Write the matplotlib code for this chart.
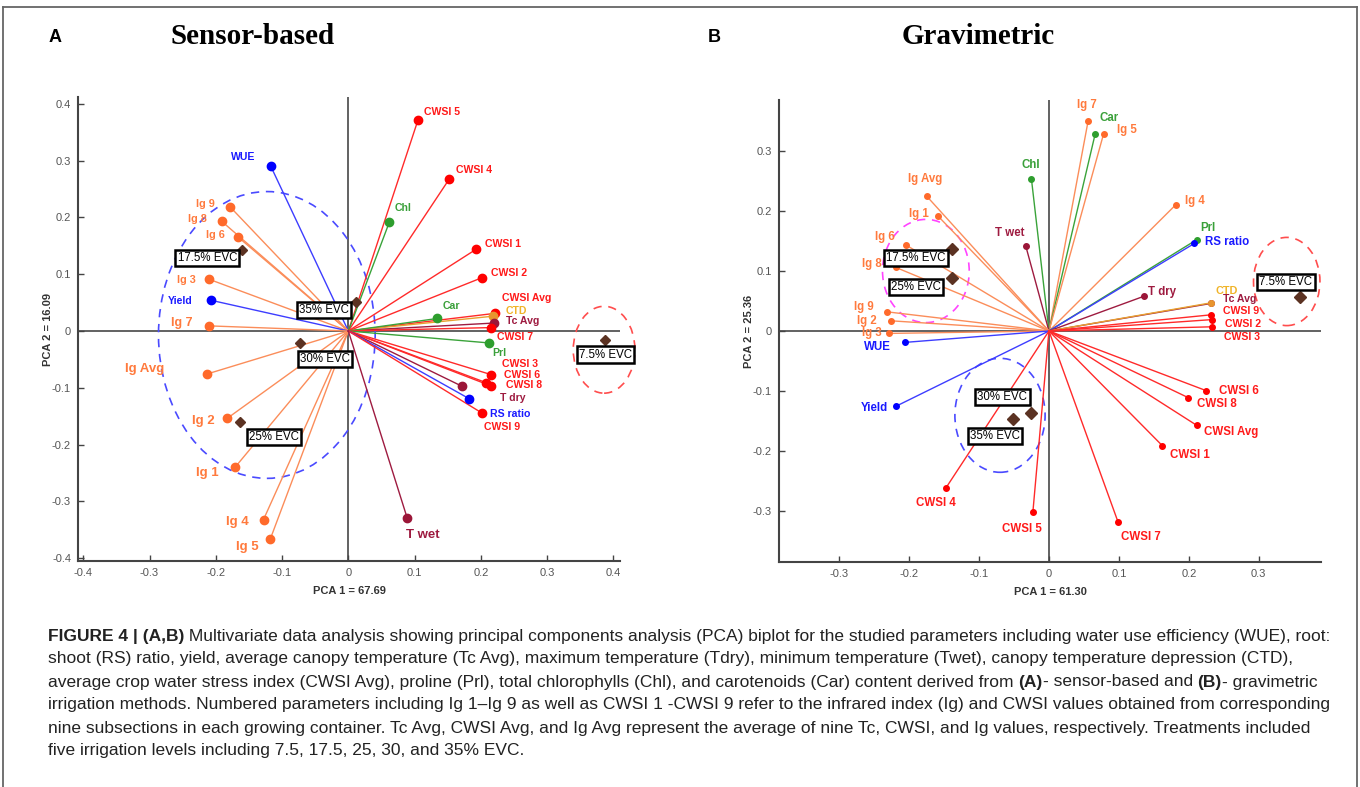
import matplotlib
matplotlib.use('Agg')
import matplotlib.pyplot as plt
from matplotlib.patches import Ellipse
from matplotlib.lines import Line2D
from matplotlib.ticker import FuncFormatter
from matplotlib import font_manager

# ---- panel A (sensor-based) loadings ----
A_vars = ['WUE', 'Ig 9', 'Ig 8', 'Ig 6', 'Ig 3', 'Yield', 'Ig 7', 'Ig Avg', 'Ig 2', 'Ig 1',
          'Ig 4', 'Ig 5', 'CWSI 5', 'CWSI 4', 'Chl', 'CWSI 1', 'CWSI 2', 'CWSI Avg', 'CTD',
          'Tc Avg', 'Car', 'CWSI 7', 'Prl', 'CWSI 3', 'CWSI 6', 'CWSI 8', 'T dry', 'RS ratio',
          'CWSI 9', 'T wet']
A_pc1 = [-0.117, -0.178, -0.191, -0.166, -0.210, -0.207, -0.210, -0.214, -0.183, -0.171,
         -0.128, -0.118, 0.105, 0.152, 0.062, 0.193, 0.202, 0.221, 0.218,
         0.220, 0.134, 0.215, 0.212, 0.216, 0.208, 0.216, 0.171, 0.182,
         0.201, 0.089]
A_pc2 = [0.290, 0.218, 0.193, 0.165, 0.091, 0.054, 0.009, -0.076, -0.154, -0.240,
         -0.332, -0.367, 0.371, 0.267, 0.192, 0.144, 0.094, 0.031, 0.026,
         0.014, 0.022, 0.006, -0.021, -0.077, -0.091, -0.097, -0.097, -0.119,
         -0.144, -0.330]
A_evc = ['7.5% EVC', '17.5% EVC', '25% EVC', '30% EVC', '35% EVC']
A_evc_pc1 = [0.387, -0.160, -0.164, -0.073, 0.012]
A_evc_pc2 = [-0.015, 0.143, -0.160, -0.021, 0.051]
A_pct = ['67.69', '16.09']

# ---- panel B (gravimetric) loadings ----
B_vars = ['Ig 7', 'Car', 'Ig 5', 'Chl', 'T wet', 'Ig Avg', 'Ig 1', 'Ig 6', 'Ig 8', 'Ig 9',
          'Ig 2', 'Ig 3', 'WUE', 'Yield', 'CWSI 4', 'CWSI 5', 'Ig 4', 'Prl', 'RS ratio',
          'T dry', 'Tc Avg', 'CTD', 'CWSI 9', 'CWSI 2', 'CWSI 3', 'CWSI 6', 'CWSI 8',
          'CWSI Avg', 'CWSI 1', 'CWSI 7']
B_pc1 = [0.056, 0.066, 0.078, -0.025, -0.033, -0.175, -0.159, -0.204, -0.219, -0.232,
         -0.226, -0.228, -0.206, -0.218, -0.147, -0.023, 0.181, 0.211, 0.208,
         0.136, 0.232, 0.232, 0.232, 0.233, 0.233, 0.225, 0.199,
         0.211, 0.162, 0.099]
B_pc2 = [0.350, 0.328, 0.328, 0.253, 0.141, 0.225, 0.192, 0.143, 0.106, 0.032,
         0.017, -0.004, -0.019, -0.125, -0.261, -0.302, 0.210, 0.152, 0.146,
         0.058, 0.046, 0.047, 0.027, 0.019, 0.007, -0.0995, -0.111,
         -0.157, -0.191, -0.319]
B_evc = ['7.5% EVC', '17.5% EVC', '25% EVC', '30% EVC', '35% EVC']
B_evc_pc1 = [0.359, -0.139, -0.139, -0.025, -0.052]
B_evc_pc2 = [0.056, 0.136, 0.088, -0.136, -0.147]
B_pct = ['61.30', '25.36']

# group ellipses: center x, center y, width, height
A_groups = [(-0.123, -0.007, 0.327, 0.505), (0.386, -0.033, 0.093, 0.153)]
B_groups = [(-0.176, 0.100, 0.124, 0.172), (-0.070, -0.1405, 0.129, 0.19),
            (0.340, 0.0825, 0.095, 0.147)]
A_group_col = ['#4a4aff', '#ff4d4d']
B_group_col = ['#ff44ff', '#4a4aff', '#ff4d4d']

# label offsets in pixels (dx, dy up) from the point
A_lab = {'WUE': (-28, 9), 'Ig 9': (-25, 3), 'Ig 8': (-24, 2), 'Ig 6': (-23, 2), 'Ig 3': (-23, -1),
         'Yield': (-31, -1), 'Ig 7': (-27, 3), 'Ig Avg': (-62, 5), 'Ig 2': (-24, -3),
         'Ig 1': (-28, -6), 'Ig 4': (-26, -2), 'Ig 5': (-23, -8), 'CWSI 5': (24, 8),
         'CWSI 4': (25, 9), 'Chl': (14, 14), 'CWSI 1': (27, 5), 'CWSI 2': (27, 5),
         'CWSI Avg': (32, 15), 'CTD': (24, 5), 'Tc Avg': (29, 2), 'Car': (14, 12),
         'CWSI 7': (24, -9), 'Prl': (11, -10), 'CWSI 3': (29, 11), 'CWSI 6': (36, 8),
         'CWSI 8': (33, 1), 'T dry': (51, -12), 'RS ratio': (41, -15), 'CWSI 9': (21, -14),
         'T wet': (16, -17)}
A_size = {'Ig Avg': 9.5, 'Ig 2': 9.5, 'Ig 1': 9.5, 'Ig 4': 9.5, 'Ig 5': 9.5, 'Ig 7': 9.0,
          'T wet': 9.5, 'Ig 9': 7.8, 'Ig 8': 7.8, 'Ig 6': 7.8, 'Ig 3': 7.8}
A_box = [(1, -15), (-35, -8), (34, -15), (25, -16), (-32, -8)]

B_lab = {'Ig 7': (-1, 16), 'Car': (14, 16), 'Ig 5': (23, 4), 'Chl': (-1, 14), 'T wet': (-16, 13),
         'Ig Avg': (-1, 17), 'Ig 1': (-19, 2), 'Ig 6': (-21, 8), 'Ig 8': (-24, 3),
         'Ig 9': (-23, 5), 'Ig 2': (-24, 0), 'Ig 3': (-18, 0), 'WUE': (-27, -5),
         'Yield': (-22, -2), 'CWSI 4': (-10, -15), 'CWSI 5': (-11, -17), 'Ig 4': (19, 4),
         'Prl': (11, 12), 'RS ratio': (33, 1), 'T dry': (18, 4), 'CTD': (15, 12),
         'Tc Avg': (28, 4), 'CWSI 9': (30, 4), 'CWSI 2': (31, -4), 'CWSI 3': (30, -10),
         'CWSI 6': (33, 0), 'CWSI 8': (29, -6), 'CWSI Avg': (35, -7), 'CWSI 1': (28, -9),
         'CWSI 7': (23, -15)}
B_size = {'Tc Avg': 7.6, 'CWSI 9': 7.6, 'CWSI 2': 7.6, 'CWSI 3': 7.6, 'CTD': 7.8}
B_box = [(-14, 15), (-36, -9), (-36, -9), (-29, 16), (-18, -17)]


# colours: (line, marker, label)
def var_colors(name):
    if name.startswith('CWSI'):
        return '#ff2a2a', '#ff0000', '#ff1a1a'
    if name.startswith('Ig'):
        return '#fb8d5a', '#ff6a2b', '#ff7a3d'
    if name in ('WUE', 'Yield', 'RS ratio'):
        return '#3d3dff', '#0000ff', '#1a1aff'
    if name in ('Chl', 'Car', 'Prl'):
        return '#3aa33a', '#2e9e2e', '#3aa03a'
    if name == 'CTD':
        return '#e8a030', '#e8952e', '#f0b429'
    return '#9e1b40', '#9b1638', '#9e1b40'


names_all = {f.name for f in font_manager.fontManager.ttflist}
SANS = 'Liberation Sans' if 'Liberation Sans' in names_all else 'DejaVu Sans'
SERIF = 'Liberation Serif' if 'Liberation Serif' in names_all else 'DejaVu Serif'
NARROW = 'Liberation Sans Narrow' if 'Liberation Sans Narrow' in names_all else SANS
plt.rcParams['font.family'] = SANS

W, H = 1360, 787
fig = plt.figure(figsize=(13.6, 7.87), dpi=100)


def px_axes(l, t, r, b):
    return fig.add_axes([l / W, 1 - b / H, (r - l) / W, (b - t) / H])


def biplot(ax, names, pc1, pc2, lab, sizes, lsize, ms, evc, epc1, epc2, boxes, dms,
           groups, gcols, xlim, ylim, ticks, pct):
    ax.axhline(0, color='#555555', lw=1.3, zorder=1)
    ax.axvline(0, color='#555555', lw=1.3, zorder=1)
    for (cx, cy, ew, eh), c in zip(groups, gcols):
        ax.add_patch(Ellipse((cx, cy), ew, eh, fill=False, ec=c, lw=1.2,
                             ls=(0, (5, 4)), zorder=2, clip_on=False))
    for n, x, y in zip(names, pc1, pc2):
        lc, mc, tc = var_colors(n)
        ax.plot([0, x], [0, y], color=lc, lw=1.0, zorder=3)
    for n, x, y in zip(names, pc1, pc2):
        lc, mc, tc = var_colors(n)
        ax.plot(x, y, 'o', color=mc, ms=ms, mec=mc, zorder=4)
        dx, dy = lab[n]
        ax.annotate(n, (x, y), xytext=(dx, dy), textcoords='offset pixels',
                    ha='center', va='center', color=tc, weight='bold',
                    fontsize=sizes.get(n, lsize), zorder=6)
    ax.plot(epc1, epc2, 'D', color='#5b3222', ms=dms, zorder=5, clip_on=False)
    for t, x, y, (dx, dy) in zip(evc, epc1, epc2, boxes):
        ax.annotate(t, (x, y), xytext=(dx, dy), textcoords='offset pixels',
                    ha='center', va='center', color='black', fontsize=8.3,
                    bbox=dict(boxstyle='square,pad=0.18', fc='white', ec='black', lw=1.8),
                    zorder=7)
    ax.set_xlim(*xlim)
    ax.set_ylim(*ylim)
    ax.set_xticks(ticks[0])
    ax.set_yticks(ticks[1])
    fmt = FuncFormatter(lambda v, p: '%g' % round(v, 2))
    ax.xaxis.set_major_formatter(fmt)
    ax.yaxis.set_major_formatter(fmt)
    for s in ('top', 'right'):
        ax.spines[s].set_visible(False)
    for s in ('left', 'bottom'):
        ax.spines[s].set_color('#444444')
        ax.spines[s].set_linewidth(1.5)
    ax.tick_params(direction='in', length=4, width=1, color='#444444',
                   labelsize=8, labelcolor='#555555', pad=5)
    ax.set_xlabel('PCA 1 = ' + pct[0], fontsize=8, weight='bold', color='#333333', labelpad=6)
    ax.set_ylabel('PCA 2 = ' + pct[1], fontsize=8, weight='bold', color='#333333', labelpad=-1)


axA = px_axes(78, 97, 620, 561)
biplot(axA, A_vars, A_pc1, A_pc2, A_lab, A_size, 7.6, 6.0, A_evc, A_evc_pc1, A_evc_pc2,
       A_box, 5.0, A_groups, A_group_col, (-0.408, 0.41), (-0.405, 0.412),
       ([-0.4, -0.3, -0.2, -0.1, 0, 0.1, 0.2, 0.3, 0.4],
        [-0.4, -0.3, -0.2, -0.1, 0, 0.1, 0.2, 0.3, 0.4]), A_pct)

axB = px_axes(779, 100, 1321, 562)
biplot(axB, B_vars, B_pc1, B_pc2, B_lab, B_size, 8.3, 4.0, B_evc, B_evc_pc1, B_evc_pc2,
       B_box, 6.5, B_groups, B_group_col, (-0.386, 0.389), (-0.385, 0.385),
       ([-0.3, -0.2, -0.1, 0, 0.1, 0.2, 0.3], [-0.3, -0.2, -0.1, 0, 0.1, 0.2, 0.3]), B_pct)

# headers
fig.text(55 / W, 1 - 38 / H, 'A', weight='bold', fontsize=13, ha='center', va='center')
fig.text(253 / W, 1 - 36 / H, 'Sensor-based', family=SERIF, weight='bold', fontsize=21,
         ha='center', va='center')
fig.text(714 / W, 1 - 38 / H, 'B', weight='bold', fontsize=13, ha='center', va='center')
fig.text(978 / W, 1 - 36 / H, 'Gravimetric', family=SERIF, weight='bold', fontsize=21,
         ha='center', va='center')

# frame
fc = '#666666'
fig.add_artist(Line2D([3 / W, 1357 / W], [1 - 7 / H, 1 - 7 / H], transform=fig.transFigure,
                      color=fc, lw=1.3))
fig.add_artist(Line2D([3 / W, 3 / W], [0, 1 - 7 / H], transform=fig.transFigure, color=fc, lw=1.3))
fig.add_artist(Line2D([1357 / W, 1357 / W], [0, 1 - 7 / H], transform=fig.transFigure,
                      color=fc, lw=1.3))

# caption
caption = [
    [('FIGURE 4 | (A,B)', 'bold'), (' Multivariate data analysis showing principal components analysis (PCA) biplot for the studied parameters including water use efficiency (WUE), root:', 'normal')],
    [('shoot (RS) ratio, yield, average canopy temperature (Tc Avg), maximum temperature (Tdry), minimum temperature (Twet), canopy temperature depression (CTD),', 'normal')],
    [('average crop water stress index (CWSI Avg), proline (Prl), total chlorophylls (Chl), and carotenoids (Car) content derived from ', 'normal'), ('(A)', 'bold'), ('- sensor-based and ', 'normal'), ('(B)', 'bold'), ('- gravimetric', 'normal')],
    [('irrigation methods. Numbered parameters including Ig 1\u2013Ig 9 as well as CWSI 1 -CWSI 9 refer to the infrared index (Ig) and CWSI values obtained from corresponding', 'normal')],
    [('nine subsections in each growing container. Tc Avg, CWSI Avg, and Ig Avg represent the average of nine Tc, CWSI, and Ig values, respectively. Treatments included', 'normal')],
    [('five irrigation levels including 7.5, 17.5, 25, 30, and 35% EVC.', 'normal')],
]
cap_y = [636, 659, 682, 705, 728, 751]

renderer = fig.canvas.get_renderer()


def seg_width(txt, weight, size):
    t = fig.text(0, 0, 'x' + txt + 'x', family=NARROW, weight=weight, fontsize=size)
    w1 = t.get_window_extent(renderer=renderer).width
    t.set_text('xx')
    w2 = t.get_window_extent(renderer=renderer).width
    t.remove()
    return w1 - w2


def line_width(segs, size):
    return sum(seg_width(s, w, size) for s, w in segs)


cap_size = 10.0 * 1281 / line_width(caption[0], 10.0)
for segs, y in zip(caption, cap_y):
    x = 48.0
    for s, w in segs:
        fig.text(x / W, 1 - y / H, s, family=NARROW, weight=w, fontsize=cap_size,
                 color='#222222', va='center', ha='left')
        x += seg_width(s, w, cap_size)

fig.savefig('out.png', dpi=100)
